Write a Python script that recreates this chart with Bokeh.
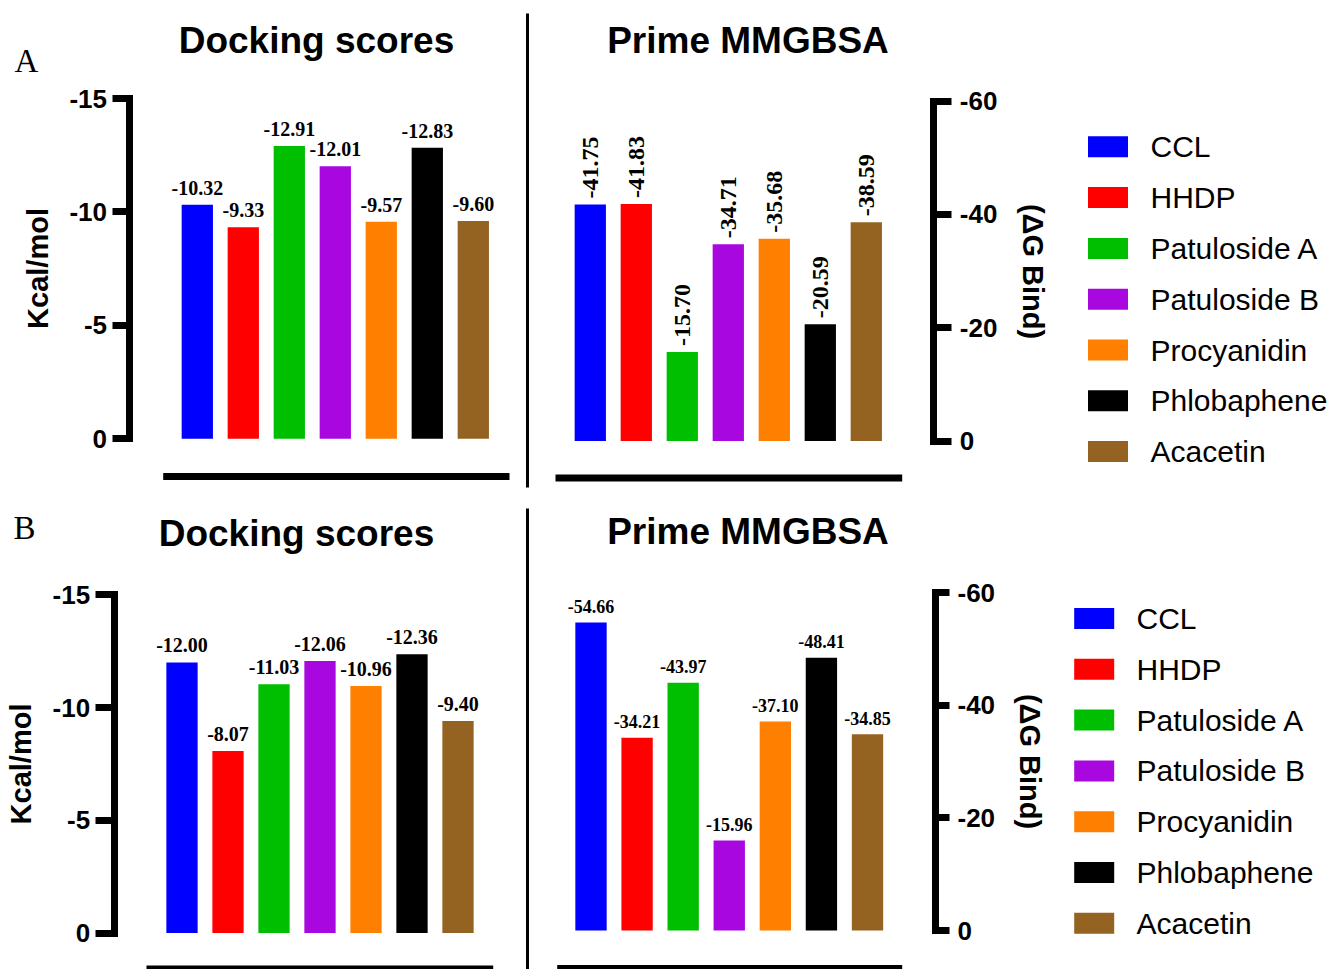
import math
from bokeh.plotting import figure
from bokeh.models import Range1d, FixedTicker, ColumnDataSource, LinearAxis
from bokeh.embed import file_html
from bokeh.resources import INLINE
from bokeh.core.properties import value

# ---------------- data ----------------
compounds = ["CCL", "HHDP", "Patuloside A", "Patuloside B", "Procyanidin", "Phlobaphene", "Acacetin"]
colors = ["#0000FF", "#FF0000", "#00BF00", "#A808DF", "#FF8000", "#000000", "#946221"]
dock_A = [-10.32, -9.33, -12.91, -12.01, -9.57, -12.83, -9.60]
mmgbsa_A = [-41.75, -41.83, -15.70, -34.71, -35.68, -20.59, -38.59]
dock_B = [-12.00, -8.07, -11.03, -12.06, -10.96, -12.36, -9.40]
mmgbsa_B = [-54.66, -34.21, -43.97, -15.96, -37.10, -48.41, -34.85]
dock_ticks = [-15, -10, -5, 0]
mmgbsa_ticks = [-60, -40, -20, 0]
panel_letters = ["A", "B"]
titles = ["Docking scores", "Prime MMGBSA"]
left_label = "Kcal/mol"
right_label = "(\u0394G Bind)"

SANS = "Liberation Sans"
SERIF = "Liberation Serif"
W, H = 1328, 969


def lin(pa, va, pb, vb):
    k = (vb - va) / (pb - pa)
    return lambda q: va + (q - pa) * k


# one canvas; the default ranges are page pixels (y downwards)
p = figure(width=W, height=H, output_backend="svg", toolbar_location=None, tools="",
           x_axis_location=None, y_axis_location=None,
           x_range=Range1d(0, W), y_range=Range1d(H, 0), min_border=0, title=None)
p.outline_line_color = None
p.background_fill_color = "white"
p.border_fill_color = "white"
p.grid.visible = False


def style_axis(ax, ticks, label, tick_out, lab_standoff, axlab_standoff):
    ax.ticker = FixedTicker(ticks=ticks)
    ax.major_label_overrides = {t: str(t) for t in ticks}
    ax.bounds = (min(ticks), max(ticks))
    ax.axis_line_width = 7
    ax.axis_line_cap = "square"
    ax.axis_line_color = "black"
    ax.major_tick_line_width = 7
    ax.major_tick_line_color = "black"
    ax.major_tick_out = int(tick_out)
    ax.major_tick_in = 0
    ax.minor_tick_line_color = None
    ax.major_label_text_font = SANS
    ax.major_label_text_font_style = "bold"
    ax.major_label_text_font_size = "26px"
    ax.major_label_text_color = "black"
    ax.major_label_standoff = int(lab_standoff)
    ax.axis_label = label
    ax.axis_label_text_font = SANS
    ax.axis_label_text_font_style = "bold"
    ax.axis_label_text_font_size = "29px"
    ax.axis_label_text_color = "black"
    ax.axis_label_standoff = int(axlab_standoff)


def text_px(x, y, txt, font, size, style="normal", align="center", baseline="middle"):
    p.text(x=[x], y=[y], text=[txt], text_font=value(font), text_font_style=style,
           text_font_size=size, text_align=align, text_baseline=baseline, text_color="black")


def line_px(x0, y0, x1, y1, lw):
    p.segment(x0=[x0], y0=[y0], x1=[x1], y1=[y1], line_color="black", line_width=lw, line_cap="butt")


def panel(name, vals, ticks, side, axis_x, bar0, bar6, zero_px, top_px, label, tick_out,
          lab_standoff, axlab_standoff, lbl_size, rotated, lbl_off):
    fx = lin(bar0, 0, bar6, len(vals) - 1)
    fy = lin(zero_px, 0, top_px, ticks[0])
    p.extra_x_ranges[name] = Range1d(fx(0), fx(W))
    p.extra_y_ranges[name] = Range1d(fy(H), fy(0))
    ax = LinearAxis(y_range_name=name, fixed_location=axis_x)
    style_axis(ax, ticks, label, tick_out, lab_standoff, axlab_standoff)
    p.add_layout(ax, side)
    src = ColumnDataSource(dict(x=list(range(len(vals))), val=vals, color=colors,
                                lbl=["%.2f" % v for v in vals]))
    p.vbar(x="x", top="val", bottom=0, width=0.68, fill_color="color", line_color=None,
           source=src, x_range_name=name, y_range_name=name)
    if rotated:
        p.text(x="x", y="val", text="lbl", source=src, text_font=value(SERIF), text_font_style="bold",
               text_font_size=lbl_size, text_align="left", text_baseline="middle",
               angle=math.pi / 2, y_offset=-lbl_off, text_color="black",
               x_range_name=name, y_range_name=name)
    else:
        p.text(x="x", y="val", text="lbl", source=src, text_font=value(SERIF), text_font_style="bold",
               text_font_size=lbl_size, text_align="center", text_baseline="alphabetic",
               y_offset=-lbl_off, text_color="black", x_range_name=name, y_range_name=name)


def legend(name, sq_x, txt_x, first_c, pitch):
    fy = lin(first_c, 0, first_c + pitch * (len(compounds) - 1), len(compounds) - 1)
    p.extra_y_ranges[name] = Range1d(fy(H), fy(0))
    src = ColumnDataSource(dict(i=list(range(len(compounds))), name=compounds, color=colors))
    p.rect(x=sq_x, y="i", width=40, height=21, width_units="screen", height_units="screen",
           fill_color="color", line_color=None, source=src, y_range_name=name)
    p.text(x=txt_x, y="i", text="name", source=src, text_font=value(SANS),
           text_font_size="30px", text_align="left", text_baseline="middle", text_color="black",
           y_range_name=name)


# ---------------- row A ----------------
panel("dockA", dock_A, dock_ticks, "left", 128.5, 196.8, 472.8, 438.3, 98.0, left_label,
      17, 5, 13, "20px", False, 17)
panel("mmA", mmgbsa_A, mmgbsa_ticks, "right", 933.3, 589.8, 865.8, 440.5, 100.5, right_label,
      18, 8, 17, "24px", True, 6)
legend("legA", 1107.5, 1150, 146.3, 50.8)
text_px(316, 40, titles[0], SANS, "37px", "bold")
text_px(747.5, 40, titles[1], SANS, "37px", "bold")
text_px(14, 60, panel_letters[0], SERIF, "33px", "normal", "left", "alphabetic")
line_px(162.7, 476, 509, 476, 7)
line_px(555, 477.5, 901.7, 477.5, 7)
line_px(527, 13, 527, 487, 3)

# ---------------- row B ----------------
panel("dockB", dock_B, dock_ticks, "left", 113.7, 181.5, 457.5, 932.5, 594.3, left_label,
      19, 5, 13, "20px", False, 17)
panel("mmB", mmgbsa_B, mmgbsa_ticks, "right", 935.0, 590.5, 867.0, 930.0, 592.0, right_label,
      14, 8, 16, "18px", False, 16)
legend("legB", 1093.7, 1136, 618.0, 50.8)
text_px(296, 533, titles[0], SANS, "37px", "bold")
text_px(747.5, 530.5, titles[1], SANS, "37px", "bold")
text_px(13, 527, panel_letters[1], SERIF, "33px", "normal", "left", "alphabetic")
line_px(146, 968.5, 492.7, 968.5, 7)
line_px(556.7, 968, 901.7, 968, 7)
line_px(527, 508, 527, 969, 3)

with open("out.html", "w") as f:
    f.write(file_html(p, INLINE))
